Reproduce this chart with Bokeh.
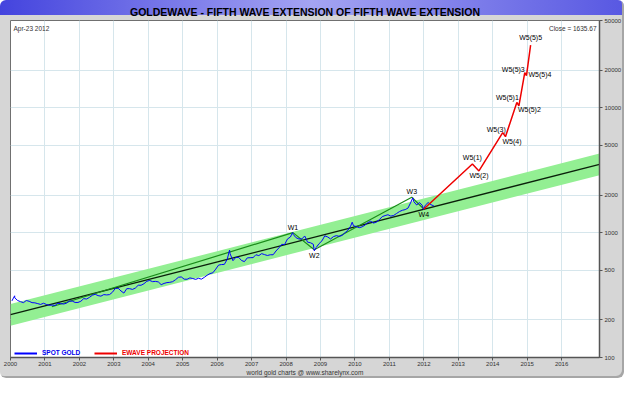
from bokeh.plotting import figure
from bokeh.models import Range1d, FixedTicker, Label, Legend, LegendItem, PrintfTickFormatter
from bokeh.embed import file_html
from bokeh.resources import INLINE

# ---------------- data ----------------
years = list(range(2000, 2017))
y_ticks = [100, 200, 500, 1000, 2000, 5000, 10000, 20000, 50000]

gold_2000 = [284, 300, 286, 280, 275, 286, 282, 275, 274, 270, 266, 272]
gold_2001 = [266, 262, 263, 261, 272, 270, 268, 272, 283, 283, 276, 276]
gold_2002 = [282, 296, 294, 303, 315, 321, 313, 310, 319, 317, 319, 333]
gold_2003 = [357, 359, 341, 328, 356, 356, 351, 360, 379, 379, 390, 408]
gold_2004 = [414, 405, 407, 403, 383, 392, 398, 400, 405, 420, 439, 442]
gold_2005 = [424, 423, 434, 429, 422, 431, 424, 438, 456, 470, 477, 510]
gold_2006 = [550, 555, 557, 611, 677, 596, 634, 633, 598, 586, 628, 630]
gold_2007 = [631, 665, 655, 679, 667, 656, 665, 665, 713, 755, 806, 803]
gold_2008 = [890, 922, 968, 910, 889, 890, 940, 839, 830, 807, 761, 816]
gold_2009 = [859, 943, 924, 890, 929, 946, 934, 949, 997, 1043, 1127, 1135]
gold_2010 = [1118, 1095, 1113, 1149, 1205, 1233, 1193, 1216, 1271, 1342, 1370, 1391]
gold_2011 = [1356, 1373, 1424, 1474, 1510, 1529, 1573, 1756, 1772, 1665, 1739, 1652]
gold_2012 = [1656, 1743, 1674, 1636]
gold_by_year = [gold_2000, gold_2001, gold_2002, gold_2003, gold_2004, gold_2005, gold_2006,
                gold_2007, gold_2008, gold_2009, gold_2010, gold_2011, gold_2012]
gold_extreme_t = [2000.12, 2006.36, 2008.19, 2008.82, 2009.92, 2011.68, 2011.99]
gold_extreme_v = [312, 725, 1000, 715, 1212, 1900, 1531]

channel_x = [2000.0, 2017.1]
channel_mid = [220, 3520]
channel_low = [180, 2885]
channel_high = [268, 4295]

wave_x = [2001.2, 2008.2, 2008.82, 2011.65, 2012.0]
wave_y = [255, 1000, 730, 1920, 1545]
wave_names = ["", "W1", "W2", "W3", "W4"]

proj_x = [2012.0, 2013.41, 2013.6, 2014.29, 2014.37, 2014.7, 2014.76, 2014.93, 2014.98, 2015.1]
proj_y = [1545, 3545, 3120, 6320, 5870, 11040, 10350, 19150, 18070, 31750]
proj_names = ["", "W5(1)", "W5(2)", "W5(3)", "W5(4)", "W5(5)1", "W5(5)2", "W5(5)3", "W5(5)4", "W5(5)5"]

# build gold time series (month mid points plus intramonth extremes)
gold_pts = []
for yi, vals in enumerate(gold_by_year):
    for m, v in enumerate(vals):
        gold_pts.append((2000 + yi + (m + 0.5) / 12.0, v))
gold_pts += list(zip(gold_extreme_t, gold_extreme_v))
gold_pts.sort()
gold_t = [t for t, v in gold_pts]
gold_v = [v for t, v in gold_pts]

FONT = "Liberation Sans"
GOLD_BLUE = "#0000ff"
PROJ_RED = "#ee0000"
NAN = float("nan")

p = figure(width=624, height=378, x_range=Range1d(2000, 2017.1), y_range=Range1d(100, 50000),
           y_axis_type="log", y_axis_location="right", output_backend="svg",
           toolbar_location=None, min_border_left=10, min_border_right=22,
           min_border_top=0, min_border_bottom=0,
           background_fill_color="white", border_fill_color=None,
           outline_line_color="#707070")

p.styles = {
    "background": "linear-gradient(to right, #4444de, #a4a4f2 50%, #5858e2) 0 0 / 100% 15px no-repeat, #d6d6d6",
    "border-radius": "6px",
    "box-shadow": "inset -2px -2px 0 #a6a6a6",
}

p.title.text = "GOLDEWAVE - FIFTH WAVE EXTENSION OF FIFTH WAVE EXTENSION"
p.title.align = "center"
p.title.text_font = FONT
p.title.text_font_size = "10.5px"
p.title.text_font_style = "bold"
p.title.text_color = "black"
p.title.standoff = 6
p.title.offset = 0

xa = p.xaxis[0]
xa.ticker = FixedTicker(ticks=years)
xa.major_label_text_font = FONT
xa.major_label_text_font_size = "6px"
xa.major_label_text_color = "#333333"
xa.major_label_standoff = 1
xa.major_tick_out = 3
xa.major_tick_in = 0
xa.minor_tick_out = 0
xa.minor_tick_in = 0
xa.axis_line_color = "#555555"
xa.axis_line_width = 1.5
xa.major_tick_line_color = "#555555"
xa.axis_label = "world gold charts @ www.sharelynx.com"
xa.axis_label_text_font = FONT
xa.axis_label_text_font_size = "6.5px"
xa.axis_label_text_font_style = "normal"
xa.axis_label_text_color = "#333333"
xa.axis_label_standoff = 0

ya = p.yaxis[0]
ya.ticker = FixedTicker(ticks=y_ticks)
ya.formatter = PrintfTickFormatter(format="%d")
ya.major_label_text_font = FONT
ya.major_label_text_font_size = "6px"
ya.major_label_text_color = "#333333"
ya.major_label_standoff = 2
ya.major_tick_out = 3
ya.major_tick_in = 0
ya.minor_tick_out = 0
ya.minor_tick_in = 0
ya.axis_line_color = "#555555"
ya.axis_line_width = 1.5
ya.major_tick_line_color = "#555555"

p.xgrid.ticker = FixedTicker(ticks=years)
p.ygrid.ticker = FixedTicker(ticks=y_ticks)
p.xgrid.grid_line_color = "#d6e6ec"
p.ygrid.grid_line_color = "#d6e6ec"

# channel
p.varea(x=channel_x, y1=channel_low, y2=channel_high, fill_color="#93ef93")
p.line(channel_x, channel_mid, line_color="#0a200a", line_width=1.3)

# waves
p.line(wave_x, wave_y, line_color="#1a8a1a", line_width=1.2)
gold = p.line(gold_t, gold_v, line_color=GOLD_BLUE, line_width=1)
proj = p.line(proj_x, proj_y, line_color=PROJ_RED, line_width=1.5)

# single-NaN renderers used only as legend swatches (draw nothing in the plot)
gold_key = p.line(x=[NAN], y=[NAN], line_color=GOLD_BLUE, line_width=2)
proj_key = p.line(x=[NAN], y=[NAN], line_color=PROJ_RED, line_width=2)

# wave labels: (names, xs, ys, index, align, baseline, dx, dy)
label_specs = [
    (wave_names, wave_x, wave_y, 1, "center", "bottom", 0, 2),
    (wave_names, wave_x, wave_y, 2, "center", "top", 0, -2),
    (wave_names, wave_x, wave_y, 3, "center", "bottom", 0, 2),
    (wave_names, wave_x, wave_y, 4, "center", "top", 0, -2),
    (proj_names, proj_x, proj_y, 1, "center", "bottom", 0, 3),
    (proj_names, proj_x, proj_y, 2, "center", "top", 0, -1),
    (proj_names, proj_x, proj_y, 3, "right", "bottom", 3, 0),
    (proj_names, proj_x, proj_y, 4, "left", "top", -3, -1),
    (proj_names, proj_x, proj_y, 5, "right", "bottom", 2, 1),
    (proj_names, proj_x, proj_y, 6, "left", "top", -1, 0),
    (proj_names, proj_x, proj_y, 7, "right", "bottom", 0, 0),
    (proj_names, proj_x, proj_y, 8, "left", "middle", 2, 1),
    (proj_names, proj_x, proj_y, 9, "center", "bottom", 0, 4),
]
for names, xs, ys, i, al, bl, dx, dy in label_specs:
    p.add_layout(Label(x=xs[i], y=ys[i], text=names[i], x_offset=dx, y_offset=dy,
                       text_align=al, text_baseline=bl, text_font=FONT,
                       text_font_size="7px", text_color="black"))

p.add_layout(Label(x=2000.0, y=50000, text="Apr-23  2012", x_offset=3, y_offset=-4,
                   text_align="left", text_baseline="top", text_font=FONT,
                   text_font_size="6.5px", text_color="#333333"))
p.add_layout(Label(x=2017.1, y=50000, text="Close = 1635.67", x_offset=-3, y_offset=-4,
                   text_align="right", text_baseline="top", text_font=FONT,
                   text_font_size="6.5px", text_color="#333333"))

leg_common = dict(orientation="horizontal", label_text_font=FONT, label_text_font_size="6.5px",
                  label_text_font_style="bold", glyph_width=23, glyph_height=6, label_height=6,
                  label_standoff=5, padding=0, margin=0, spacing=0,
                  background_fill_alpha=0, border_line_color=None)
leg1 = Legend(items=[LegendItem(label="SPOT GOLD", renderers=[gold_key])], location=(4, 1),
              label_text_color="#0000ee", **leg_common)
leg2 = Legend(items=[LegendItem(label="EWAVE PROJECTION", renderers=[proj_key])], location=(84, 1),
              label_text_color=PROJ_RED, **leg_common)
p.add_layout(leg1)
p.add_layout(leg2)

open("out.html", "w").write(file_html(p, INLINE, "GOLDEWAVE"))
